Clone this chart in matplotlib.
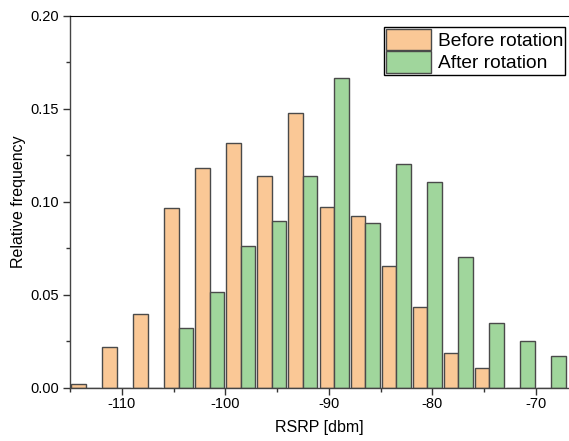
import matplotlib
matplotlib.use("Agg")
import matplotlib.pyplot as plt
import numpy as np
from matplotlib.ticker import MultipleLocator

plt.rcParams['font.family'] = ['Liberation Sans', 'DejaVu Sans']

bin_centers = [-113.5, -110.5, -107.5, -104.5, -101.5, -98.5, -95.5, -92.5,
               -89.5, -86.5, -83.5, -80.5, -77.5, -74.5, -71.5, -68.5]
before = [0.0022, 0.0217, 0.0397, 0.0965, 0.118, 0.1315, 0.1139, 0.148,
          0.0974, 0.0922, 0.0653, 0.0434, 0.0188, 0.0104, 0.0, 0.0]
after = [0.0, 0.0, 0.0, 0.0323, 0.0517, 0.0764, 0.0895, 0.114,
         0.1668, 0.0885, 0.1205, 0.1108, 0.0702, 0.0346, 0.0250, 0.0172]
xticks = [-110, -100, -90, -80, -70]
yticks = [0.00, 0.05, 0.10, 0.15, 0.20]

fig = plt.figure(figsize=(5.69, 4.41), dpi=100)
ax = fig.add_axes([70/569, 1 - 387.7/441, (568 - 70)/569, (387.7 - 16)/441])

w = 1.4
x = np.array(bin_centers)
ax.bar(x - w/2, before, width=w, color='#FAC896', edgecolor='#4a4a4a', linewidth=1.0,
       label='Before rotation', zorder=2)
ax.bar(x + w/2, after, width=w, color='#A0D69C', edgecolor='#4a4a4a', linewidth=1.0,
       label='After rotation', zorder=2)

ax.set_xlim(-115, -66.9)
ax.set_ylim(0, 0.20)
ax.set_xticks(xticks)
ax.set_xticklabels([str(t) for t in xticks])
ax.set_yticks(yticks)
ax.set_yticklabels([f'{t:.2f}' for t in yticks])
ax.xaxis.set_minor_locator(MultipleLocator(5))
ax.yaxis.set_minor_locator(MultipleLocator(0.025))
ax.tick_params(which='major', direction='out', length=5, width=1, labelsize=10.5, color='#333333')
ax.tick_params(which='minor', direction='out', length=3, width=1, color='#333333')
ax.tick_params(axis='x', pad=2)
ax.tick_params(axis='y', pad=3)
for s in ['left', 'bottom']:
    ax.spines[s].set_color('#444444')
    ax.spines[s].set_linewidth(1.0)
ax.spines['top'].set_color('black')
ax.spines['right'].set_visible(False)

ax.set_xlabel('RSRP [dbm]', fontsize=11.5, labelpad=6)
ax.set_ylabel('Relative frequency', fontsize=11.5, labelpad=3)

leg = ax.legend(loc='upper right', fontsize=13.8, frameon=True, fancybox=False,
                edgecolor='black', framealpha=1, handlelength=2.35, handleheight=1.35,
                borderpad=0.1, labelspacing=0.05, handletextpad=0.35,
                borderaxespad=0.0, bbox_to_anchor=(495/498, 1 - 10.7/371.7))
leg.get_frame().set_linewidth(1.0)

fig.savefig('out.png', dpi=100)
